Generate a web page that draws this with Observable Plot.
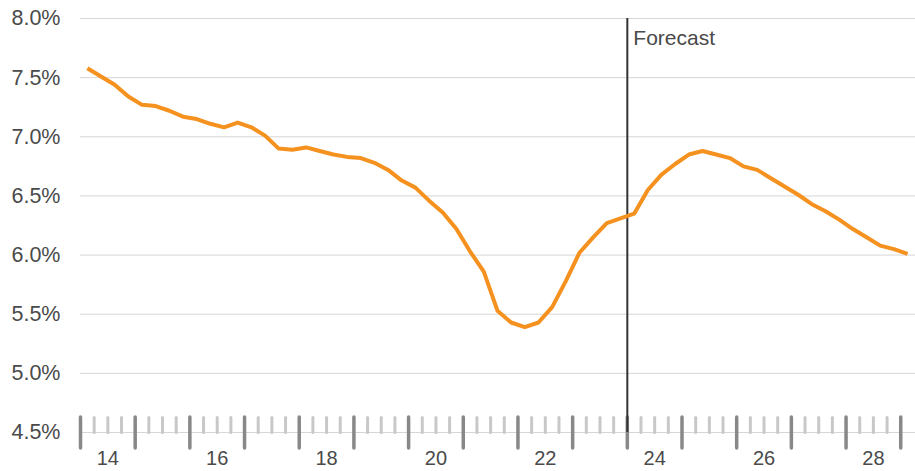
<!DOCTYPE html>
<html>
<head>
<meta charset="utf-8">
<script src="https://cdn.jsdelivr.net/npm/d3@7"></script>
<script src="https://cdn.jsdelivr.net/npm/@observablehq/plot@0.6"></script>
<style>
  html, body { margin: 0; padding: 0; background: #fff; }
  #chart svg { display: block; }
</style>
</head>
<body>
<div id="chart"></div>
<script>
// Quarterly data, 2014Q1 .. 2029Q1
const quarters = [
  "2014Q1","2014Q2","2014Q3","2014Q4","2015Q1","2015Q2","2015Q3","2015Q4",
  "2016Q1","2016Q2","2016Q3","2016Q4","2017Q1","2017Q2","2017Q3","2017Q4",
  "2018Q1","2018Q2","2018Q3","2018Q4","2019Q1","2019Q2","2019Q3","2019Q4",
  "2020Q1","2020Q2","2020Q3","2020Q4","2021Q1","2021Q2","2021Q3","2021Q4",
  "2022Q1","2022Q2","2022Q3","2022Q4","2023Q1","2023Q2","2023Q3","2023Q4",
  "2024Q1","2024Q2","2024Q3","2024Q4","2025Q1","2025Q2","2025Q3","2025Q4",
  "2026Q1","2026Q2","2026Q3","2026Q4","2027Q1","2027Q2","2027Q3","2027Q4",
  "2028Q1","2028Q2","2028Q3","2028Q4","2029Q1"
];
const rates = [
  7.58, 7.51, 7.44, 7.34, 7.27, 7.26, 7.22, 7.17,
  7.15, 7.11, 7.08, 7.12, 7.08, 7.01, 6.90, 6.89,
  6.91, 6.88, 6.85, 6.83, 6.82, 6.78, 6.72, 6.63,
  6.57, 6.46, 6.36, 6.22, 6.03, 5.86, 5.53, 5.43,
  5.39, 5.43, 5.56, 5.78, 6.02, 6.15, 6.27, 6.31,
  6.35, 6.55, 6.68, 6.77, 6.85, 6.88, 6.85, 6.82,
  6.75, 6.72, 6.65, 6.58, 6.51, 6.43, 6.37, 6.30,
  6.22, 6.15, 6.08, 6.05, 6.01
];
const yTicks = [4.5, 5.0, 5.5, 6.0, 6.5, 7.0, 7.5, 8.0];
const yearTicks = d3.range(2014, 2030);        // major ticks at year starts
const yearLabels = [2014, 2016, 2018, 2020, 2022, 2024, 2026, 2028];
const forecastStart = 2024;
const forecastLabel = "Forecast";

// quarter "YYYYQn" -> mid-quarter decimal year
const qx = s => +s.slice(0, 4) + (+s.slice(5) - 0.5) / 4;
const data = quarters.map((q, i) => ({x: qx(q), y: rates[i]}));
const minorTicks = yearTicks.slice(0, -1).flatMap(y => [y + 0.25, y + 0.5, y + 0.75]);

const line = {draw(ctx, l) { ctx.moveTo(0, 0); ctx.lineTo(0, -l); }};
const FONT = "'Liberation Sans', Arial, Helvetica, sans-serif";

const chart = Plot.plot({
  width: 915,
  height: 471,
  marginTop: 18,
  marginBottom: 39,
  marginLeft: 80,
  marginRight: 0,
  style: {fontFamily: FONT, background: "#fff", color: "#4a4a4a"},
  x: {domain: [2014, 2029.27], axis: null},
  y: {domain: [4.5, 8.0], axis: null},
  marks: [
    Plot.gridY(yTicks, {stroke: "#d6d6d6", strokeOpacity: 1, strokeWidth: 1}),
    Plot.axisY(yTicks, {
      label: null, tickSize: 0, tickPadding: 20, fontSize: 21.5, fill: "#4a4a4a",
      tickFormat: d => d.toFixed(1) + "%"
    }),
    Plot.vector(minorTicks, {
      x: d => d, y: 4.5, length: 15, anchor: "start", rotate: 0,
      shape: line, stroke: "#c8c8c8", strokeWidth: 3
    }),
    Plot.vector(yearTicks, {
      x: d => d, y: 4.5, length: 31, anchor: "middle", rotate: 0,
      shape: line, stroke: "#888888", strokeWidth: 3.5
    }),
    Plot.ruleX([forecastStart], {y1: 4.5, y2: 8.0, stroke: "#333", strokeWidth: 2}),
    Plot.text([forecastLabel], {
      x: forecastStart, y: 8.0, text: d => d, textAnchor: "start",
      lineAnchor: "middle", dx: 6, dy: 20, fontSize: 21, fill: "#4a4a4a"
    }),
    Plot.text(yearLabels, {
      x: d => d + 0.5, y: 4.5, text: d => String(d % 100),
      lineAnchor: "middle", dy: 26, fontSize: 20, fill: "#4a4a4a"
    }),
    Plot.line(data, {x: "x", y: "y", stroke: "#f5911e", strokeWidth: 4,
      strokeLinejoin: "round", strokeLinecap: "butt"})
  ]
});
document.getElementById("chart").append(chart);
</script>
</body>
</html>
